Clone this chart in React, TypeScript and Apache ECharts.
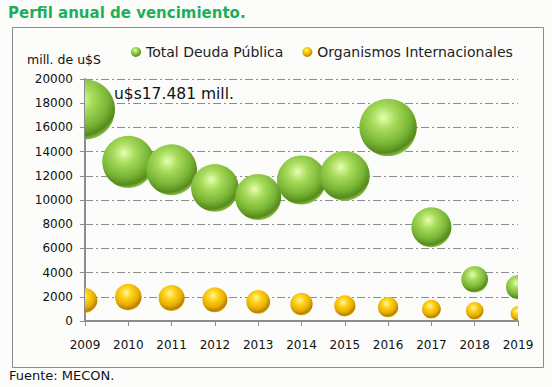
import React, { useEffect, useRef } from "react";
import * as echarts from "echarts";

const years = [2009, 2010, 2011, 2012, 2013, 2014, 2015, 2016, 2017, 2018, 2019];
const totalDeuda = [17481, 13150, 12500, 11000, 10250, 11650, 12000, 16000, 7750, 3450, 2800];
const organismos = [1700, 1980, 1900, 1750, 1580, 1400, 1250, 1150, 980, 850, 620];
const seriesNames = ["Total Deuda Pública", "Organismos Internacionales"];
const titleText = "Perfil anual de vencimiento.";
const unitText = "mill. de u$S";
const annotationText = "u$s17.481 mill.";
const sourceText = "Fuente: MECON.";

const FONT = "DejaVu Sans";

function makeGradient(stops: string[]) {
  return new echarts.graphic.RadialGradient(0.42, 0.33, 0.68, [
    { offset: 0, color: stops[0] },
    { offset: 0.3, color: stops[1] },
    { offset: 0.68, color: stops[2] },
    { offset: 0.9, color: stops[3] },
    { offset: 1, color: stops[4] },
  ]);
}

export default function App() {
  const ref = useRef<HTMLDivElement>(null);
  useEffect(() => {
    if (!ref.current) return;
    const chart = echarts.init(ref.current, null, { renderer: "svg" });
    const green = makeGradient(["#e6ffb2", "#a8dc5c", "#79b535", "#568a1c", "#8cc04a"]);
    const yellow = makeGradient(["#fff7a8", "#ffd41c", "#e8ad00", "#b58000", "#e4b420"]);

    const bubble = (fill: any, k: number) => (params: any, api: any) => {
      const pt = api.coord([api.value(0), api.value(1)]);
      const r = (k * Math.sqrt(api.value(1))) / 2;
      return {
        type: "circle",
        shape: { cx: pt[0], cy: pt[1], r },
        style: { fill },
      };
    };

    chart.setOption({
      animation: false,
      backgroundColor: "#fcfdfb",
      textStyle: { fontFamily: FONT },
      grid: { left: 85, right: 34, top: 79, bottom: 66 },
      legend: {
        left: 126,
        top: 40,
        itemWidth: 10,
        itemHeight: 10,
        itemGap: 19,
        icon: "circle",
        textStyle: { fontSize: 14, color: "#222", fontFamily: FONT },
        data: seriesNames,
      },
      xAxis: {
        type: "value",
        min: 2009,
        max: 2019,
        interval: 1,
        axisLine: { lineStyle: { color: "#8c8c8c", width: 2 } },
        axisTick: { show: true, length: 5, lineStyle: { color: "#8c8c8c" } },
        axisLabel: { margin: 18, fontSize: 12, color: "#111", fontFamily: FONT, formatter: (v: number) => String(v) },
        splitLine: { show: false },
      },
      yAxis: {
        type: "value",
        min: 0,
        max: 20000,
        interval: 2000,
        axisLine: { show: true, lineStyle: { color: "#8c8c8c", width: 2 } },
        axisTick: { show: true, length: 5, lineStyle: { color: "#8c8c8c" } },
        axisLabel: { margin: 12, fontSize: 12, color: "#111", fontFamily: FONT, formatter: (v: number) => String(v) },
        splitLine: { lineStyle: { color: "#8c8c8c", type: [8, 3, 2, 3], width: 1 } },
      },
      series: [
        {
          name: seriesNames[0],
          type: "custom",
          clip: true,
          data: years.map((y, i) => [y, totalDeuda[i]]),
          encode: { x: 0, y: 1 },
          renderItem: bubble(green, 0.454),
          itemStyle: { color: green },
          z: 3,
        },
        {
          name: seriesNames[1],
          type: "custom",
          clip: true,
          data: years.map((y, i) => [y, organismos[i]]),
          encode: { x: 0, y: 1 },
          renderItem: bubble(yellow, 0.6),
          itemStyle: { color: yellow },
          z: 4,
        },
      ],
      graphic: [
        {
          type: "rect",
          shape: { x: 12.5, y: 27.5, width: 531, height: 340 },
          style: { fill: "none", stroke: "#8a8a8a", lineWidth: 1 },
          z: -1,
        },
        {
          type: "text",
          left: 8,
          top: 5,
          style: { text: titleText, fontSize: 15, fontWeight: "bold", fill: "#1fae58", fontFamily: FONT },
        },
        {
          type: "text",
          left: 27,
          top: 53,
          style: { text: unitText, fontSize: 12.5, fill: "#111", fontFamily: FONT },
        },
        {
          type: "text",
          left: 114,
          top: 86,
          z: 10,
          style: { text: annotationText, fontSize: 15.5, fill: "#111", fontFamily: FONT },
        },
        {
          type: "text",
          left: 9,
          top: 369,
          style: { text: sourceText, fontSize: 13, fill: "#111", fontFamily: FONT },
        },
      ],
    });
    return () => chart.dispose();
  }, []);
  return (
    <div
      ref={ref}
      style={{ position: "fixed", left: 0, top: 0, width: 552, height: 387 }}
    />
  );
}
